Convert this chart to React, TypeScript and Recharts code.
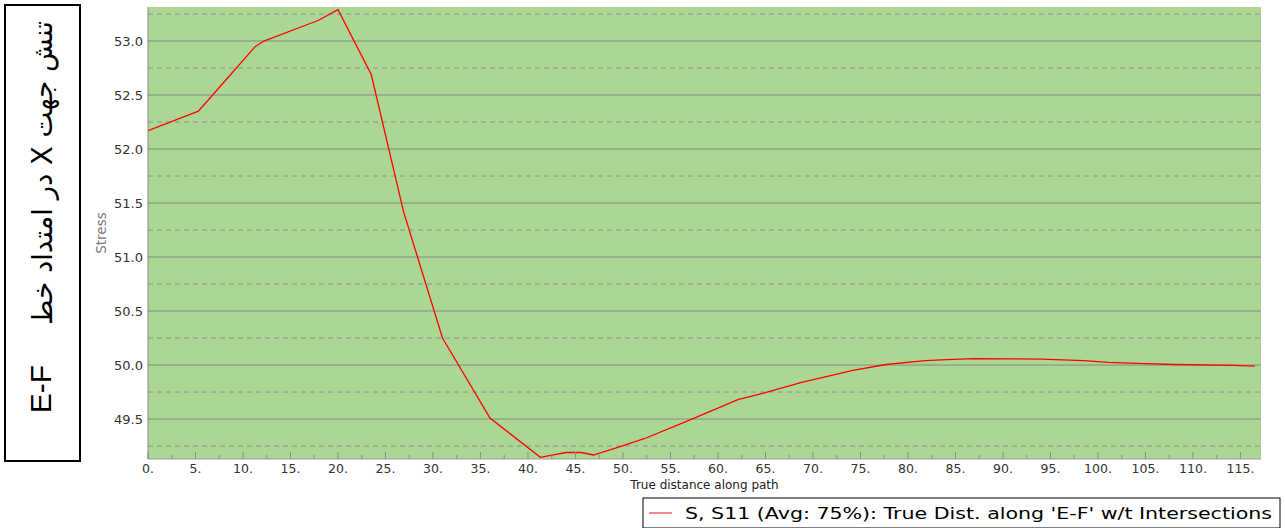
import React from "react";
import {
  LineChart,
  Line,
  XAxis,
  YAxis,
  CartesianGrid,
  ReferenceLine,
} from "recharts";

// distance along path E-F and S11 stress
const distance = [
  0, 5.3, 7.8, 11.3, 12.2, 17.0, 17.9, 20.0, 23.5, 26.9, 31.0, 36.0, 41.3, 44.0,
  45.6, 46.9, 49.7, 52.3, 57.0, 62.1, 64.8, 68.8, 74.2, 77.7, 81.8, 84.1, 86.9,
  94.1, 98.5, 101.1, 104.1, 108.1, 114.2, 116.5,
];
const stress = [
  52.17, 52.35, 52.6, 52.95, 53.0, 53.16, 53.19, 53.29, 52.69, 51.42, 50.25,
  49.51, 49.145, 49.19, 49.19, 49.167, 49.245, 49.32, 49.49, 49.68, 49.74,
  49.84, 49.95, 50.005, 50.04, 50.05, 50.06, 50.055, 50.04, 50.025, 50.015,
  50.005, 49.997, 49.99,
];

const yTicks = [49.5, 50.0, 50.5, 51.0, 51.5, 52.0, 52.5, 53.0];
const yMinor = [49.25, 49.75, 50.25, 50.75, 51.25, 51.75, 52.25, 52.75, 53.25];
const xTicks = Array.from({ length: 47 }, (_, i) => i * 2.5); // 0 .. 115, labels every 5
const xDomain: [number, number] = [0, 117.16];
const yDomain: [number, number] = [49.13, 53.315];

const titleFa = "تنش جهت X در امتداد خط";
const titleId = "E-F";
const legendText = "S, S11 (Avg: 75%): True Dist. along 'E-F' w/t Intersections";

const data = distance.map((d, i) => ({ d, s: stress[i] }));

const FONT = "DejaVu Sans, Verdana, sans-serif";

function BottomTick(props: any) {
  const { x, y, payload } = props;
  const v = payload.value as number;
  const major = Math.abs(v % 5) < 1e-6;
  return (
    <g>
      <line x1={x} x2={x} y1={y} y2={y - (major ? 7 : 4)} stroke="#8c8c8c" />
      {major && (
        <text x={x} y={y + 14} textAnchor="middle" fontSize={12.5} fontFamily={FONT} fill="#333">
          {`${v}.`}
        </text>
      )}
    </g>
  );
}

function TopTick(props: any) {
  const { x, y, payload } = props;
  const major = Math.abs((payload.value as number) % 5) < 1e-6;
  return <line x1={x} x2={x} y1={y} y2={y + (major ? 7 : 4)} stroke="#8c8c8c" />;
}

function StressLabel(props: any) {
  const { viewBox } = props;
  const cy = viewBox.y + viewBox.height / 2;
  return (
    <text
      transform={`translate(106, ${cy}) rotate(-90)`}
      textAnchor="middle"
      fontSize={13.5}
      fontFamily={FONT}
      fill="#7a7a7a"
    >
      Stress
    </text>
  );
}

export default function App() {
  return (
    <div style={{ position: "absolute", left: 0, top: 0, width: 1285, height: 528, background: "#fff" }}>
      <svg width={90} height={470} style={{ position: "absolute", left: 0, top: 0 }}>
        <rect x={5} y={5} width={75} height={456} fill="#fff" stroke="#000" strokeWidth={2} />
        <text
          transform="translate(52, 173) rotate(-90)"
          textAnchor="middle"
          fontSize={27.5}
          fontFamily="DejaVu Sans, sans-serif"
          fill="#000"
          direction="rtl"
        >
          {titleFa}
        </text>
        <text
          transform="translate(51, 389) rotate(-90)"
          textAnchor="middle"
          fontSize={30}
          fontFamily="Liberation Sans, Arial, sans-serif"
          fill="#000"
        >
          {titleId}
        </text>
      </svg>

      <LineChart
        width={1285}
        height={528}
        data={data}
        margin={{ top: 7, right: 24, bottom: 29, left: 88 }}
      >
        <CartesianGrid horizontal={false} vertical={false} fill="#acd693" />
        {yMinor.map((v) => (
          <ReferenceLine key={`m${v}`} y={v} stroke="#939393" strokeDasharray="5 4" />
        ))}
        {yTicks.map((v) => (
          <ReferenceLine key={`M${v}`} y={v} stroke="#8a8a8a" />
        ))}
        <XAxis
          dataKey="d"
          type="number"
          domain={xDomain}
          allowDataOverflow
          ticks={xTicks}
          interval={0}
          tickSize={0}
          tickMargin={0}
          tickLine={false}
          tick={<BottomTick />}
          axisLine={{ stroke: "#9a9a9a" }}
          height={40}
          label={{
            value: "True distance along path",
            position: "insideBottom",
            offset: 10,
            fontSize: 12,
            fontFamily: FONT,
            fill: "#222",
          }}
        />
        <XAxis
          xAxisId="top"
          dataKey="d"
          type="number"
          orientation="top"
          domain={xDomain}
          allowDataOverflow
          ticks={xTicks}
          interval={0}
          tickSize={0}
          tickMargin={0}
          tickLine={false}
          tick={<TopTick />}
          axisLine={{ stroke: "#dcdcdc" }}
          height={0}
        />
        <YAxis
          type="number"
          domain={yDomain}
          allowDataOverflow
          ticks={yTicks}
          interval={0}
          tickFormatter={(v: number) => v.toFixed(1)}
          tickSize={0}
          tickMargin={5}
          tickLine={false}
          tick={{ fill: "#333", fontSize: 13, fontFamily: FONT }}
          axisLine={{ stroke: "#8c8c8c" }}
          width={60}
          label={<StressLabel />}
        />
        <YAxis
          yAxisId="right"
          orientation="right"
          domain={yDomain}
          tick={false}
          tickLine={false}
          axisLine={{ stroke: "#8c8c8c" }}
          width={0}
        />
        <Line
          type="linear"
          dataKey="s"
          stroke="#ff0000"
          strokeWidth={1.3}
          dot={false}
          isAnimationActive={false}
        />
      </LineChart>

      <svg width={640} height={32} style={{ position: "absolute", left: 642, top: 497 }}>
        <rect x={1} y={1} width={637} height={30} fill="#fff" stroke="#000" strokeWidth={1} />
        <line x1={7} x2={30} y1={16} y2={16} stroke="#ff6060" strokeWidth={1.5} />
        <text
          x={43}
          y={22}
          fontSize={16}
          fontFamily={FONT}
          fill="#000"
          textLength={587}
          lengthAdjust="spacingAndGlyphs"
        >
          {legendText}
        </text>
      </svg>
    </div>
  );
}
